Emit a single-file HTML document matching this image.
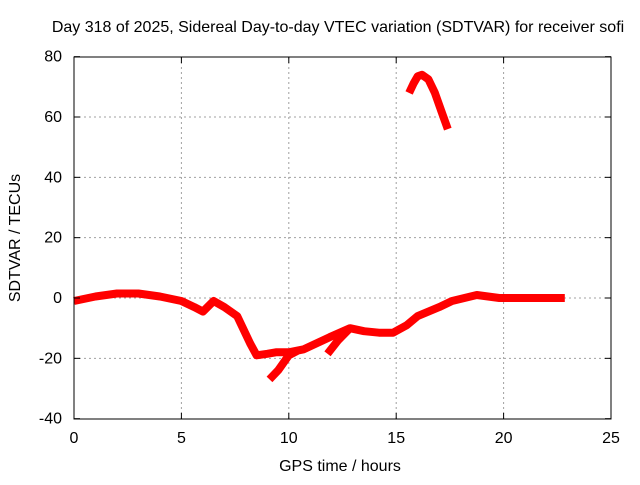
<!DOCTYPE html>
<html><head><meta charset="utf-8"><style>
body{margin:0;background:#fff;font-family:"Liberation Sans",sans-serif}
svg text{font-family:"Liberation Sans",sans-serif;font-size:16px;fill:#000}
</style></head><body>
<svg id="c" width="640" height="480" xmlns="http://www.w3.org/2000/svg">
<text x="338" y="32" text-anchor="middle">Day 318 of 2025, Sidereal Day-to-day VTEC variation (SDTVAR) for receiver sofi</text>
<text x="340" y="471" text-anchor="middle">GPS time / hours</text>
<text transform="translate(20,238) rotate(-90)" text-anchor="middle">SDTVAR / TECUs</text>
<g id="grid"></g><g id="series"></g>
<rect x="74" y="57" width="537" height="362" fill="none" stroke="#000" stroke-width="1"/>
<g id="ticks"></g>
</svg>
<script>
const xTicks=[0,5,10,15,20,25];
const yTicks=[-40,-20,0,20,40,60,80];
const mainHours=[0,1,2,3,4,5,5.6,6.0,6.5,7.0,7.6,8.2,8.5,9.0,9.4,10.0,10.7,11.3,11.9,12.85,13.5,14.2,14.85,15.5,16.0,17.0,17.6,18.75,19.8,21.0,22.0,22.85];
const mainValues=[-1,0.5,1.5,1.5,0.5,-1,-3,-4.5,-1,-3,-6,-15,-19,-18.5,-18,-18,-17,-15,-13,-10,-11,-11.5,-11.5,-9,-6,-3,-1,1,0,0,0,0];
const branch1Hours=[9.1,9.5,10.0,10.4];
const branch1Values=[-27,-24,-19,-17.5];
const branch2Hours=[11.8,12.3,12.85];
const branch2Values=[-18.5,-14,-10];
const arcHours=[15.6,15.8,16.0,16.2,16.5,16.8,17.1,17.4];
const arcValues=[68,71,73.5,74,72.5,68,62,56];
const X=h=>74+h*(537/25), Y=v=>298-v*(362/120);
const NS="http://www.w3.org/2000/svg";
const grid=document.getElementById('grid'),ticks=document.getElementById('ticks'),series=document.getElementById('series');
function mk(t,a,p){const e=document.createElementNS(NS,t);for(const k in a)e.setAttribute(k,a[k]);p.appendChild(e);return e;}
xTicks.forEach(t=>{
 if(t>0&&t<25){const g=mk('line',{x1:X(t),x2:X(t),y1:57,y2:419,stroke:'#a0a0a0','stroke-dasharray':'2,3'},grid);
 
 }
 mk('line',{x1:X(t),x2:X(t),y1:419,y2:413,stroke:'#000'},ticks);mk('line',{x1:X(t),x2:X(t),y1:57,y2:63,stroke:'#000'},ticks);
 const l=mk('text',{x:X(t),y:443,'text-anchor':'middle'},ticks);l.textContent=t;
 
 
});
yTicks.forEach(t=>{
 if(t>-40&&t<80){const g=mk('line',{x1:74,x2:611,y1:Y(t),y2:Y(t),stroke:'#a0a0a0','stroke-dasharray':'2,3'},grid);
 
 }
 mk('line',{x1:74,x2:80,y1:Y(t),y2:Y(t),stroke:'#000'},ticks);mk('line',{x1:605,x2:611,y1:Y(t),y2:Y(t),stroke:'#000'},ticks);
 const l=mk('text',{x:62,y:Y(t)+5,'text-anchor':'end'},ticks);l.textContent=t;
 
 
});
function line(hs,vs,name){
 const d=hs.map((h,i)=>(i?'L':'M')+X(h).toFixed(1)+','+Y(vs[i]).toFixed(1)).join('');
 const p=mk('path',{d:d,fill:'none',stroke:'#ff0000','stroke-width':8,'stroke-linejoin':'round','stroke-linecap':'butt'},series);
 
 
}
line(mainHours,mainValues,'sdtvar-main-series');
line(branch1Hours,branch1Values,'sdtvar-branch-series');
line(branch2Hours,branch2Values,'sdtvar-branch-series-2');
line(arcHours,arcValues,'sdtvar-arc-series');
</script>
</body></html>
